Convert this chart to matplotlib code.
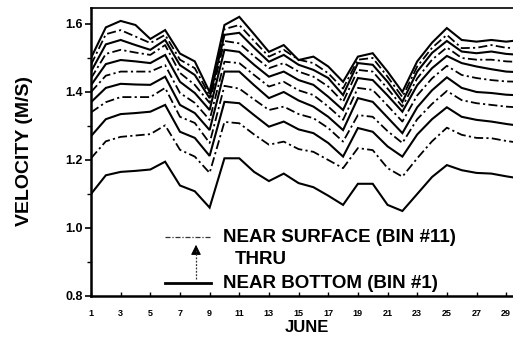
import matplotlib
matplotlib.use("Agg")
import matplotlib.pyplot as plt
from matplotlib.lines import Line2D

plt.rcParams['font.family'] = ['Liberation Sans', 'DejaVu Sans']
plt.rcParams['font.weight'] = 'bold'

days = list(range(1, 31))

bin1 = [1.10, 1.155, 1.165, 1.168, 1.172, 1.195, 1.125, 1.108, 1.06, 1.205, 1.205, 1.165, 1.138, 1.16, 1.132,
        1.12, 1.095, 1.068, 1.13, 1.13, 1.068, 1.05, 1.10, 1.15, 1.185, 1.17, 1.162, 1.16, 1.152, 1.145]
bin2 = [1.205, 1.255, 1.268, 1.272, 1.276, 1.302, 1.23, 1.21, 1.162, 1.312, 1.308, 1.275, 1.245, 1.254, 1.232,
        1.224, 1.20, 1.176, 1.235, 1.229, 1.176, 1.151, 1.205, 1.255, 1.295, 1.274, 1.265, 1.264, 1.256, 1.25]
bin3 = [1.27, 1.32, 1.335, 1.338, 1.342, 1.362, 1.283, 1.265, 1.212, 1.371, 1.367, 1.332, 1.298, 1.313, 1.29,
        1.279, 1.25, 1.21, 1.294, 1.283, 1.24, 1.21, 1.275, 1.32, 1.355, 1.327, 1.318, 1.313, 1.306, 1.30]
bin4 = [1.34, 1.37, 1.385, 1.385, 1.385, 1.412, 1.327, 1.309, 1.25, 1.418, 1.41, 1.378, 1.347, 1.357, 1.335,
        1.323, 1.294, 1.254, 1.332, 1.327, 1.285, 1.25, 1.32, 1.365, 1.403, 1.376, 1.367, 1.362, 1.357, 1.354]
bin5 = [1.37, 1.412, 1.424, 1.422, 1.421, 1.445, 1.362, 1.338, 1.288, 1.46, 1.46, 1.42, 1.382, 1.40, 1.375,
        1.357, 1.327, 1.288, 1.382, 1.371, 1.325, 1.279, 1.355, 1.405, 1.443, 1.412, 1.40, 1.397, 1.392, 1.39]
bin6 = [1.40, 1.448, 1.46, 1.46, 1.46, 1.479, 1.397, 1.368, 1.318, 1.489, 1.485, 1.45, 1.416, 1.43, 1.405,
        1.391, 1.357, 1.318, 1.412, 1.406, 1.36, 1.313, 1.39, 1.44, 1.477, 1.45, 1.441, 1.435, 1.431, 1.43]
bin7 = [1.42, 1.482, 1.494, 1.49, 1.485, 1.509, 1.43, 1.397, 1.347, 1.524, 1.518, 1.48, 1.445, 1.46, 1.435,
        1.421, 1.386, 1.347, 1.441, 1.435, 1.39, 1.342, 1.42, 1.47, 1.506, 1.485, 1.475, 1.467, 1.46, 1.458]
bin8 = [1.44, 1.512, 1.524, 1.516, 1.509, 1.538, 1.456, 1.421, 1.368, 1.55, 1.543, 1.505, 1.47, 1.485, 1.46,
        1.445, 1.416, 1.371, 1.465, 1.46, 1.41, 1.357, 1.44, 1.495, 1.531, 1.50, 1.495, 1.495, 1.49, 1.488]
bin9 = [1.46, 1.54, 1.553, 1.538, 1.524, 1.553, 1.479, 1.45, 1.382, 1.568, 1.574, 1.53, 1.489, 1.509, 1.48,
        1.465, 1.441, 1.391, 1.485, 1.48, 1.43, 1.371, 1.46, 1.515, 1.55, 1.519, 1.514, 1.519, 1.512, 1.509]
bin10 = [1.48, 1.57, 1.582, 1.563, 1.544, 1.568, 1.495, 1.47, 1.39, 1.585, 1.597, 1.55, 1.504, 1.524, 1.495,
         1.485, 1.455, 1.41, 1.495, 1.50, 1.445, 1.385, 1.475, 1.53, 1.568, 1.529, 1.53, 1.538, 1.53, 1.529]
bin11 = [1.50, 1.59, 1.609, 1.597, 1.556, 1.582, 1.513, 1.49, 1.40, 1.597, 1.621, 1.57, 1.518, 1.538, 1.494,
         1.504, 1.475, 1.43, 1.504, 1.514, 1.46, 1.40, 1.49, 1.545, 1.588, 1.553, 1.548, 1.553, 1.548, 1.553]

series = [bin1, bin2, bin3, bin4, bin5, bin6, bin7, bin8, bin9, bin10, bin11]
xticks = list(range(1, 30, 2))
yticks = [0.8, 1.0, 1.2, 1.4, 1.6]

W, H = 513, 337
fig = plt.figure(figsize=(W / 100, H / 100), dpi=100)

def fx(px):
    return px / W

def fy(py):
    return 1 - py / H

ax_left, ax_right, ax_top, ax_bot = 91, 521, 8, 296
ax = fig.add_axes([fx(ax_left), fy(ax_bot), (ax_right - ax_left) / W, (ax_bot - ax_top) / H])

dashdot = (0, (5, 1.8, 1.2, 1.8))
for i, s in enumerate(series):
    if i % 2 == 0:
        ax.plot(days, s, color='black', lw=1.5, solid_joinstyle='miter')
    else:
        ax.plot(days, s, color='black', lw=1.3, linestyle=dashdot)

ax.set_xlim(1, 30)
ax.set_ylim(0.8, 1.647)
ax.set_xticks(xticks)
ax.set_xticklabels([str(t) for t in xticks], fontsize=6.5, fontweight='bold')
ax.set_yticks(yticks)
ax.set_yticklabels([f"{t:.1f}" for t in yticks], fontsize=9, fontweight='bold')
ax.set_yticks([0.9, 1.1, 1.3, 1.5], minor=True)
ax.tick_params(axis='y', which='major', direction='out', length=4, width=1.2, pad=2)
ax.tick_params(axis='y', which='minor', direction='out', length=3, width=1.0)
ax.tick_params(axis='x', which='major', direction='in', length=3, width=1.0, pad=9)

for side in ['left', 'bottom']:
    ax.spines[side].set_linewidth(1.8)
ax.spines['top'].set_linewidth(1.2)
ax.spines['right'].set_visible(False)

fig.text(fx(25), fy(151), "VELOCITY (M/S)", rotation=90, fontsize=14, fontweight='bold',
         ha='center', va='center')
fig.text(fx(307), fy(328), "JUNE", fontsize=12, fontweight='bold', ha='center', va='center')

# legend
fig.add_artist(Line2D([fx(165), fx(211)], [fy(236.7), fy(236.7)], color='#333333', lw=0.9,
                      linestyle=(0, (4, 1.5, 1, 1.5))))
fig.add_artist(Line2D([fx(165), fx(211)], [fy(283.3), fy(283.3)], color='black', lw=2.0))
fig.add_artist(Line2D([fx(196), fx(196)], [fy(279), fy(250)], color='#333333', lw=0.9,
                      linestyle=(0, (1.5, 1.2))))
ax.annotate('', xy=(fx(196), fy(242)), xytext=(fx(196), fy(252)), xycoords='figure fraction',
            textcoords='figure fraction',
            arrowprops=dict(arrowstyle='-|>,head_length=0.6,head_width=0.3', color='black', lw=0.8))
fig.text(fx(223), fy(237), "NEAR SURFACE (BIN #11)", fontsize=13.5, fontweight='bold', va='center', ha='left')
fig.text(fx(235), fy(259), "THRU", fontsize=13.5, fontweight='bold', va='center', ha='left')
fig.text(fx(223), fy(283), "NEAR BOTTOM (BIN #1)", fontsize=13.5, fontweight='bold', va='center', ha='left')

fig.savefig("out.png", dpi=100)
